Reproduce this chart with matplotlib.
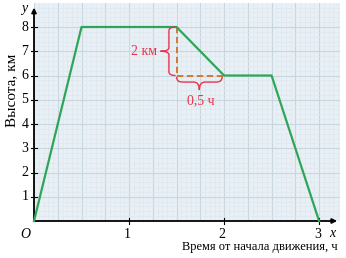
import numpy as np
import matplotlib
matplotlib.use("Agg")
import matplotlib.pyplot as plt
from matplotlib.path import Path
from matplotlib.patches import PathPatch

# данные графика
t_hours = [0, 0.5, 1.5, 2, 2.5, 3]
height_km = [0, 8, 8, 6, 6, 0]
x_ticks = [1, 2, 3]
y_ticks = [1, 2, 3, 4, 5, 6, 7, 8]

plt.rcParams['font.family'] = ['Liberation Serif', 'DejaVu Serif']

fig = plt.figure(figsize=(3.46, 2.58), dpi=100)
ax = fig.add_axes([34/346, 37/258, 306/346, 218/258])
ax.set_xlim(0, 3.22)
ax.set_ylim(0, 8.99)
ax.set_facecolor('#e8eff5')

# сетка
ax.set_xticks(np.arange(0, 3.25, 0.25), minor=False)
ax.set_yticks(np.arange(0, 9, 1), minor=False)
ax.set_xticks(np.arange(0, 3.25, 0.05), minor=True)
ax.set_yticks(np.arange(0, 9, 0.2), minor=True)
ax.grid(True, which='major', color='#c8d6e0', lw=0.8)
ax.grid(True, which='minor', color='#dfe7ee', lw=0.4)
ax.tick_params(which='both', length=0, labelleft=False, labelbottom=False)
for s in ax.spines.values():
    s.set_visible(False)

# оси со стрелками
ax.annotate('', xy=(3.19, 0), xytext=(0, 0), annotation_clip=False,
            arrowprops=dict(arrowstyle='-|>', color='black', lw=1.3,
                            mutation_scale=7, shrinkA=0, shrinkB=0))
ax.annotate('', xy=(0, 8.8), xytext=(0, 0), annotation_clip=False,
            arrowprops=dict(arrowstyle='-|>', color='black', lw=1.3,
                            mutation_scale=7, shrinkA=0, shrinkB=0))
for x in x_ticks:
    ax.plot([x, x], [-0.12, 0.12], color='black', lw=0.8, clip_on=False)
    ax.text(x - 0.02, -0.3, str(x), ha='center', va='top', fontsize=10)
for y in y_ticks:
    ax.plot([-0.03, 0.03], [y, y], color='black', lw=0.8, clip_on=False)
    ax.text(-0.06, y, str(y), ha='right', va='center', fontsize=10)
ax.text(-0.04, -0.3, 'O', ha='right', va='top', fontsize=10, style='italic')
ax.text(3.14, -0.25, 'x', ha='center', va='top', fontsize=10, style='italic')
ax.text(-0.07, 8.75, 'y', ha='right', va='center', fontsize=10, style='italic')

ax.text(3.19, -1.07, 'Время от начала движения, ч', ha='right', va='center',
        fontsize=9)
fig.text(12/346, 1 - 90/258, 'Высота, км', rotation=90, ha='center', va='center',
         fontsize=11)

# график
ax.plot(t_hours, height_km, color='#2fa55a', lw=1.6, clip_on=False, zorder=5)

# пунктир
ax.plot([t_hours[2], t_hours[2]], [height_km[2], height_km[3]], color='#d2702a',
        lw=1.3, ls=(0, (3.5, 2)), zorder=4)
ax.plot([t_hours[2], t_hours[3]], [height_km[3], height_km[3]], color='#d2702a',
        lw=1.3, ls=(0, (3.5, 2)), zorder=4)

red = '#e8334a'


def vbrace(x_e, yb, yt, a, b, c):
    x_s = x_e - a
    x_t = x_s - b
    ym = (yb + yt) / 2
    verts = [(x_e, yt), (x_s, yt), (x_s, yt - c), (x_s, ym + c),
             (x_s, ym), (x_t, ym), (x_s, ym), (x_s, ym - c),
             (x_s, yb + c), (x_s, yb), (x_e, yb)]
    codes = [Path.MOVETO, Path.CURVE3, Path.CURVE3, Path.LINETO,
             Path.CURVE3, Path.CURVE3, Path.CURVE3, Path.CURVE3,
             Path.LINETO, Path.CURVE3, Path.CURVE3]
    ax.add_patch(PathPatch(Path(verts, codes), fc='none', ec=red, lw=1.0, zorder=6))


def hbrace(y_e, xl, xr, a, b, c):
    y_s = y_e - a
    y_t = y_s - b
    xm = (xl + xr) / 2
    verts = [(xl, y_e), (xl, y_s), (xl + c, y_s), (xm - c, y_s),
             (xm, y_s), (xm, y_t), (xm, y_s), (xm + c, y_s),
             (xr - c, y_s), (xr, y_s), (xr, y_e)]
    codes = [Path.MOVETO, Path.CURVE3, Path.CURVE3, Path.LINETO,
             Path.CURVE3, Path.CURVE3, Path.CURVE3, Path.CURVE3,
             Path.LINETO, Path.CURVE3, Path.CURVE3]
    ax.add_patch(PathPatch(Path(verts, codes), fc='none', ec=red, lw=1.0, zorder=6))


vbrace(1.49, 6.0, 8.0, 0.07, 0.09, 0.15)
hbrace(5.95, 1.5, 1.98, 0.22, 0.33, 0.06)
ax.text(1.295, 7.0, '2 км', ha='right', va='center', fontsize=10, color=red)
ax.text(1.76, 4.95, '0,5 ч', ha='center', va='center', fontsize=10, color=red)

fig.savefig('out.png', dpi=100)
